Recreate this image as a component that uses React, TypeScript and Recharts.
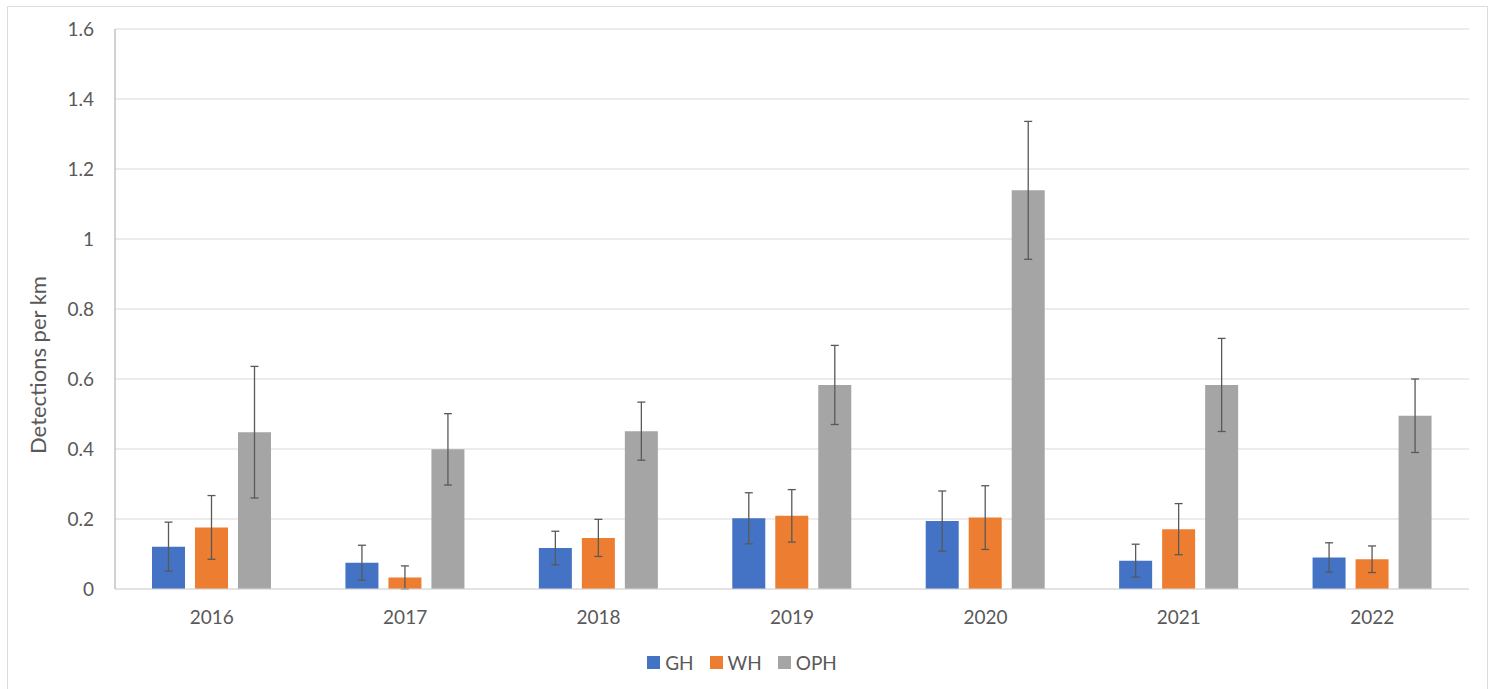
import { BarChart, Bar, XAxis, YAxis, CartesianGrid, Legend, ErrorBar } from 'recharts';

const years = ['2016', '2017', '2018', '2019', '2020', '2021', '2022'];

// mean detections per km
const gh = [0.121, 0.075, 0.117, 0.202, 0.194, 0.081, 0.09];
const wh = [0.176, 0.033, 0.146, 0.209, 0.204, 0.171, 0.085];
const oph = [0.448, 0.399, 0.451, 0.583, 1.139, 0.583, 0.495];

// symmetric error (half the whisker length)
const ghErr = [0.07, 0.05, 0.048, 0.073, 0.086, 0.047, 0.042];
const whErr = [0.091, 0.033, 0.053, 0.075, 0.091, 0.073, 0.038];
const ophErr = [0.188, 0.102, 0.083, 0.113, 0.197, 0.133, 0.105];

const yTicks = [0, 0.2, 0.4, 0.6, 0.8, 1, 1.2, 1.4, 1.6];

const series = [
  { key: 'GH', color: '#4472C4' },
  { key: 'WH', color: '#ED7D31' },
  { key: 'OPH', color: '#A5A5A5' },
];

const chartData = years.map((year, i) => ({
  year,
  GH: gh[i],
  WH: wh[i],
  OPH: oph[i],
  GHErr: ghErr[i],
  WHErr: whErr[i],
  OPHErr: ophErr[i],
}));

const FONT = 'Lato, "Open Sans", sans-serif';
const TEXT = '#595959';

const LegendBox = () => (
  <div
    style={{
      display: 'flex',
      justifyContent: 'center',
      alignItems: 'center',
      height: 22,
      fontFamily: FONT,
      fontSize: 19,
      color: TEXT,
    }}
  >
    {series.map((s) => (
      <div key={s.key} style={{ display: 'flex', alignItems: 'center', margin: '0 8px' }}>
        <span style={{ width: 13, height: 13, background: s.color, marginRight: 5, display: 'inline-block' }} />
        <span>{s.key}</span>
      </div>
    ))}
  </div>
);

const YTitle = (props: any) => {
  const { viewBox } = props;
  const cx = 37;
  const cy = viewBox.y + viewBox.height / 2 + 56;
  return (
    <text
      x={cx}
      y={cy}
      transform={`rotate(-90, ${cx}, ${cy})`}
      textAnchor="middle"
      dominantBaseline="central"
      fill={TEXT}
      style={{ fontFamily: FONT, fontSize: 22 }}
    >
      Detections per km
    </text>
  );
};

export default function App() {
  return (
    <div style={{ position: 'absolute', left: 0, top: 0, width: 1492, height: 689, background: '#fff', overflow: 'hidden' }}>
      <div
        style={{
          position: 'absolute',
          left: 7,
          top: 6,
          width: 1481,
          height: 700,
          border: '1px solid #dcdcdc',
          boxSizing: 'border-box',
        }}
      />
      <div style={{ position: 'absolute', left: 0, top: 0 }}>
        <BarChart
          width={1492}
          height={689}
          data={chartData}
          margin={{ top: 29, right: 23, left: 15, bottom: 16 }}
          barCategoryGap={37}
          barGap={10}
        >
          <CartesianGrid vertical={false} stroke="#d9d9d9" strokeWidth={1.2} />
          <XAxis
            dataKey="year"
            height={62}
            axisLine={{ stroke: '#d9d9d9', strokeWidth: 1.2 }}
            tickLine={false}
            tickMargin={16}
            tick={{ fill: TEXT, fontSize: 19, fontFamily: FONT }}
          />
          <YAxis
            width={100}
            domain={[0, 1.6]}
            ticks={yTicks}
            interval={0}
            tickFormatter={(v: number) => String(v)}
            axisLine={{ stroke: '#a6a6a6', strokeWidth: 1 }}
            tickLine={false}
            tickMargin={15}
            tick={{ fill: TEXT, fontSize: 19, fontFamily: FONT }}
            label={<YTitle />}
          />
          <Legend verticalAlign="bottom" content={<LegendBox />} />
          {series.map((s) => (
            <Bar key={s.key} dataKey={s.key} fill={s.color} isAnimationActive={false}>
              <ErrorBar
                dataKey={`${s.key}Err`}
                direction="y"
                width={4}
                stroke="#595959"
                strokeWidth={1.3}
                isAnimationActive={false}
              />
            </Bar>
          ))}
        </BarChart>
      </div>
    </div>
  );
}
